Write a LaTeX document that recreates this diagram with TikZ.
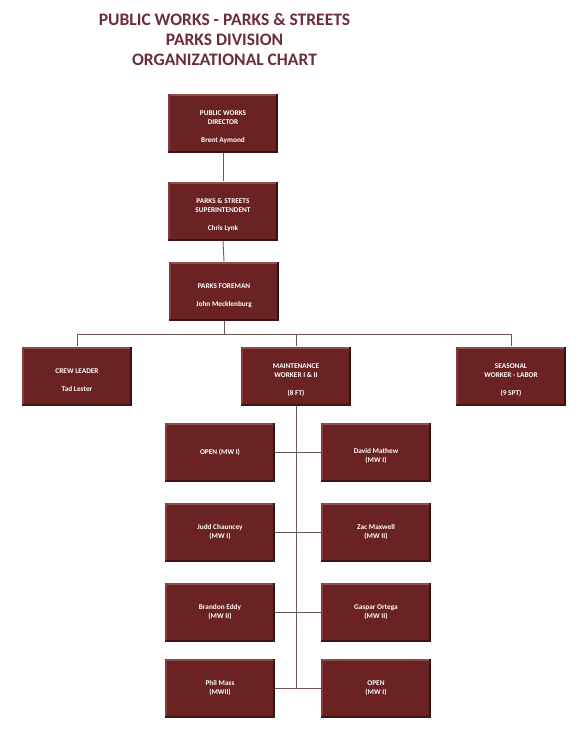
\documentclass[tikz,border=0pt]{standalone}
\usepackage{fontspec}
\setmainfont{Carlito}
\usepackage{xcolor}

\definecolor{boxred}{HTML}{6B2222}
\definecolor{boxlight}{HTML}{8E4F4C}
\definecolor{boxdark}{HTML}{3A1010}
\definecolor{titlered}{HTML}{6B2D37}
\definecolor{linegray}{HTML}{6F5656}

% strut that pushes the text of a box a little down
\newcommand{\boxgap}{\rule{0pt}{14pt}}

\tikzset{
  orgbox/.style={rectangle, fill=boxred, text=white, minimum width=110pt, minimum height=59pt,
    inner sep=2pt, align=center, font=\bfseries\fontsize{7.3}{9}\selectfont,
    path picture={
      \fill[boxlight] (path picture bounding box.north west) rectangle ([yshift=-2pt]path picture bounding box.north east);
      \fill[boxlight!60!boxred] (path picture bounding box.north west) rectangle ([xshift=1.5pt]path picture bounding box.south west);
      \fill[boxdark] ([xshift=-2.5pt]path picture bounding box.north east) rectangle (path picture bounding box.south east);
      \fill[boxdark!85!boxred] (path picture bounding box.south west) rectangle ([yshift=1.5pt]path picture bounding box.south east);
    }},
  link/.style={draw=linegray, line width=0.9pt}
}

\begin{document}
\begin{tikzpicture}[x=1pt,y=-1pt]
    \useasboundingbox (0,0) rectangle (586,756);
    \node [text=titlered, font=\bfseries\fontsize{17.5}{20}\selectfont, align=center] (title) at (224.5,40)
        {PUBLIC WORKS - PARKS \& STREETS\\PARKS DIVISION\\ORGANIZATIONAL CHART};

    % top of the chart
    \node [orgbox] (director) at (223,123) {\boxgap PUBLIC WORKS\\DIRECTOR\\[9pt]Brent Aymond};
    \node [orgbox] (super) at (223,211) {\boxgap PARKS \& STREETS\\SUPERINTENDENT\\[9pt]Chris Lynk};
    \node [orgbox] (foreman) at (224,291) {\boxgap PARKS FOREMAN\\[9pt]John Mecklenburg};

    % second level
    \node [orgbox] (crew) at (77,376) {\boxgap CREW LEADER\\[9pt]Tad Lester};
    \node [orgbox] (maint) at (296,376) {\boxgap MAINTENANCE\\WORKER I \& II\\[9pt](8 FT)};
    \node [orgbox] (seasonal) at (511,376) {\boxgap SEASONAL\\WORKER - LABOR\\[9pt](9 SPT)};

    % maintenance workers
    \node [orgbox] (mwa) at (220,452) {OPEN (MW I)};
    \node [orgbox] (mwb) at (376,452) {\boxgap David Mathew\\(MW I)};
    \node [orgbox] (mwc) at (220,532) {Judd Chauncey\\(MW I)};
    \node [orgbox] (mwd) at (376,532) {Zac Maxwell\\(MW II)};
    \node [orgbox] (mwe) at (220,612) {Brandon Eddy\\(MW II)};
    \node [orgbox] (mwf) at (376,612) {Gaspar Ortega\\(MW II)};
    \node [orgbox] (mwg) at (220,688) {Phil Mass\\(MWII)};
    \node [orgbox] (mwh) at (376,688) {OPEN\\(MW I)};

    \coordinate (busL) at (77,334);
    \coordinate (busR) at (511,334);
    \coordinate (spine) at (296,688);

    \draw [link] (director.south) -- (super.north);
    \draw [link] (super.south) -- (foreman.north);
    \draw [link] (foreman.south) -- (foreman.south |- busL);
    \draw [link] (crew.north) -- (busL) -- (busR) -- (seasonal.north);
    \draw [link] (maint.north) -- (maint.north |- busL);
    \draw [link] (maint.south) -- (spine);
    \draw [link] (mwa.east) -- (mwb.west);
    \draw [link] (mwc.east) -- (mwd.west);
    \draw [link] (mwe.east) -- (mwf.west);
    \draw [link] (mwg.east) -- (mwh.west);

\end{tikzpicture}
\end{document}
